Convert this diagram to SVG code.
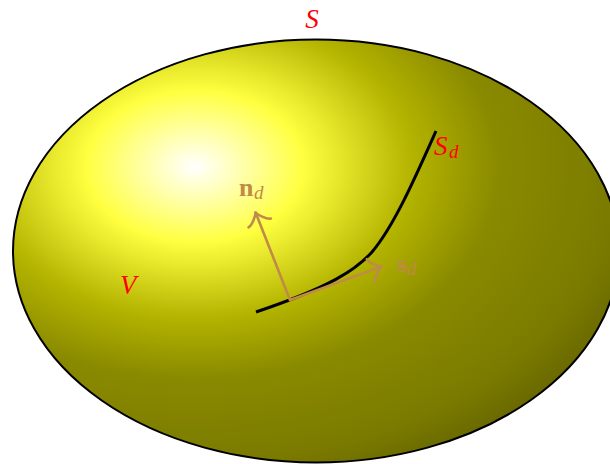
<svg xmlns="http://www.w3.org/2000/svg" width="610" height="464" viewBox="0 0 610 464">
<style>
.lbl{font-family:"Liberation Serif","DejaVu Serif",serif;font-size:27px}
.red{fill:#ff0000;font-style:italic}
.vec{fill:#c08a48;font-size:26px}
.b{font-weight:bold;font-style:normal}
.i{font-style:italic;font-weight:normal}
.arrow{stroke:#c08a48;stroke-width:2.6;fill:none;stroke-linecap:round;stroke-linejoin:round}
</style>
<defs>
<radialGradient id="ball" gradientUnits="objectBoundingBox" cx="0.3" cy="0.3" r="1" fx="0.3" fy="0.3">
<stop offset="0" stop-color="#ffffff"/>
<stop offset="0.18" stop-color="#ffff40"/>
<stop offset="0.36" stop-color="#b3b300"/>
<stop offset="0.5" stop-color="#8a8a00"/>
<stop offset="0.7" stop-color="#7a7a00"/>
<stop offset="0.88" stop-color="#555500"/>
<stop offset="1" stop-color="#303000"/>
</radialGradient>
<marker id="to" markerUnits="userSpaceOnUse" viewBox="-16 -16 32 32" markerWidth="32" markerHeight="32" refX="0" refY="0" orient="auto" overflow="visible">
<path d="M-11.25,-12 C-10.5,-7.5 -2.25,-0.75 0,0 C-2.25,0.75 -10.5,7.5 -11.25,12" fill="none" stroke="#c08a48" stroke-width="2.6" stroke-linecap="round" stroke-linejoin="round"/>
</marker>
</defs>
<g id="region-V">
<ellipse cx="316" cy="251" rx="303" ry="211.5" fill="url(#ball)" stroke="#000" stroke-width="2"/>
</g>
<g id="label-S"><text class="lbl red" x="312" y="28" text-anchor="middle">S</text></g>
<g id="label-V"><text class="lbl red" x="120" y="294">V</text></g>
<g id="curve-Sd">
<path d="M256,312 C330,287 356,270 372,252 C394,226 415,178 436,131" fill="none" stroke="#000" stroke-width="3"/>
<text class="lbl red" x="434" y="155">S<tspan x="449" y="158" font-size="19">d</tspan></text>
</g>
<g id="connectors">
<line class="arrow" x1="290" y1="300" x2="255.6" y2="212.5" marker-end="url(#to)"/>
<line class="arrow" x1="290" y1="300" x2="381.5" y2="266.6" marker-end="url(#to)"/>
</g>
<g id="label-nd"><text class="lbl vec" x="239" y="196"><tspan class="b">n</tspan><tspan class="i" x="254" y="199" font-size="19">d</tspan></text></g>
<g id="label-sd"><text class="lbl vec" x="397" y="272"><tspan class="b">s</tspan><tspan class="i" x="407" y="275" font-size="19">d</tspan></text></g>
</svg>
